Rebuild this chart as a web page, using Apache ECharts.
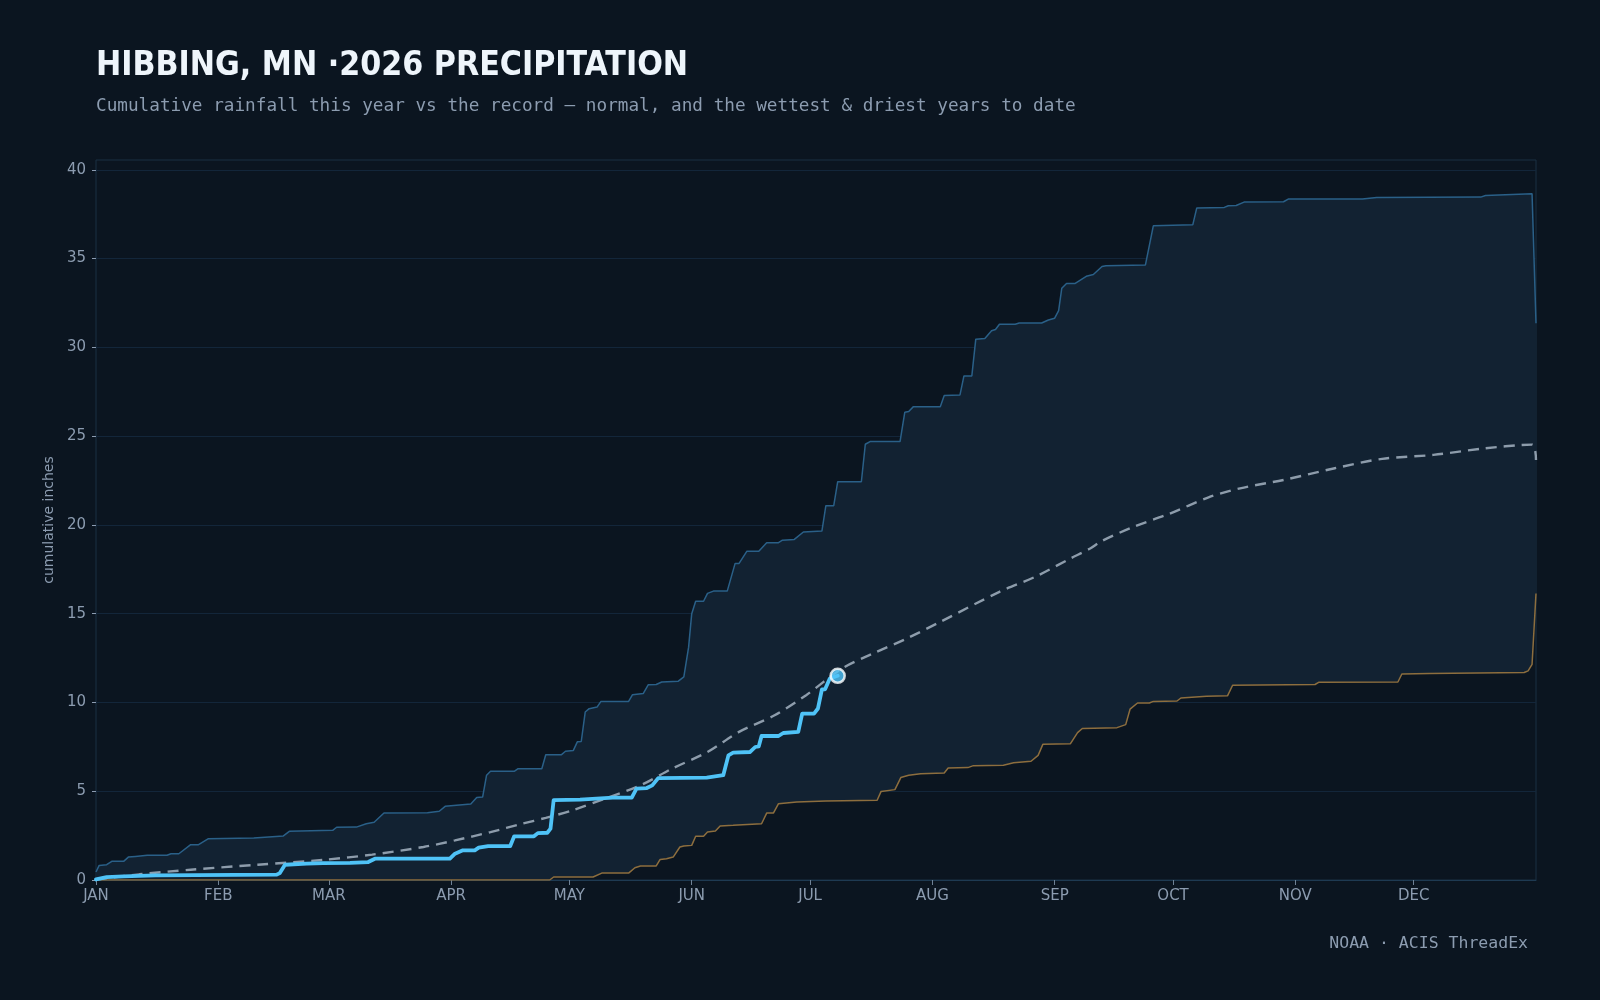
<!DOCTYPE html>
<html>
<head>
<meta charset="utf-8">
<title>Hibbing precipitation</title>
<script src="https://cdn.jsdelivr.net/npm/echarts@6/dist/echarts.min.js"></script>
<style>
  html, body { margin: 0; padding: 0; background: #0b1520; }
  #chart { width: 1600px; height: 1000px; }
</style>
</head>
<body>
<div id="chart"></div>
<script>
// day of year (0 = Jan 1), cumulative inches
const MONTHS = ['JAN', 'FEB', 'MAR', 'APR', 'MAY', 'JUN', 'JUL', 'AUG', 'SEP', 'OCT', 'NOV', 'DEC'];
const MONTH_START = [0, 31, 59, 90, 120, 151, 181, 212, 243, 273, 304, 334];
const Y_TICKS = [0, 5, 10, 15, 20, 25, 30, 35, 40];

const WETTEST = [
  [0, 0.45], [0.8, 0.82], [2.7, 0.86], [4, 1.05], [7, 1.05], [8.2, 1.29], [10, 1.33], [13, 1.39],
  [18, 1.39], [19, 1.48], [21, 1.48], [24, 1.99], [26, 1.99], [28.5, 2.33], [40, 2.36], [47.5, 2.48],
  [49, 2.74], [60, 2.8], [61, 2.97], [66, 2.98], [68.5, 3.17], [70.5, 3.25], [73, 3.77], [84, 3.79],
  [87, 3.87], [88.5, 4.15], [95, 4.28], [96.5, 4.64], [98, 4.67], [99, 5.9], [100, 6.12], [106, 6.12],
  [107, 6.27], [113, 6.27], [114, 7.05], [118, 7.06], [119, 7.25], [121, 7.3], [122, 7.78], [123, 7.8],
  [124, 9.46], [125, 9.65], [127, 9.74], [128, 10.06], [135, 10.06], [136, 10.44], [138.7, 10.5],
  [140, 11.0], [142, 11.01], [143.4, 11.15], [147.6, 11.2], [149, 11.44], [150.2, 13.1], [151, 15.0],
  [152, 15.7], [154, 15.7], [155, 16.14], [156.5, 16.27], [160, 16.27], [162, 17.83], [163, 17.83],
  [165, 18.52], [168, 18.52], [170, 19.0], [173, 19.0], [174, 19.14], [177, 19.18], [179.3, 19.6],
  [184, 19.65], [185, 21.08], [187, 21.08], [188, 22.43], [194, 22.43], [195, 24.54], [196.2, 24.69],
  [203.8, 24.69], [205, 26.34], [206, 26.38], [207.2, 26.66], [214, 26.66], [215, 27.28], [219, 27.32],
  [220, 28.39], [222, 28.39], [223, 30.46], [225.3, 30.5], [227, 30.93], [228, 31.0], [229, 31.3],
  [233, 31.3], [234, 31.37], [239.7, 31.37], [241.4, 31.54], [243, 31.64], [244, 32.07], [244.8, 33.33],
  [246, 33.6], [248.2, 33.6], [251, 34.0], [252.8, 34.1], [255, 34.55], [256, 34.6], [266, 34.64],
  [268, 36.84], [278, 36.9], [279, 37.84], [286, 37.88], [287, 37.97], [289, 37.99], [291, 38.18],
  [301, 38.2], [302.2, 38.35], [321, 38.36], [324.6, 38.44], [351, 38.46], [352.2, 38.55], [364, 38.65],
  [365, 31.36]
];

const DRIEST = [
  [0, 0], [115, 0], [116, 0.17], [126, 0.17], [128.2, 0.39], [135, 0.39], [136.6, 0.69], [138, 0.79],
  [142, 0.79], [143, 1.16], [144.6, 1.2], [146.3, 1.29], [148, 1.86], [149, 1.91], [151, 1.95],
  [152, 2.46], [154, 2.46], [155, 2.7], [157, 2.76], [158.2, 3.04], [161.5, 3.08], [168.7, 3.17],
  [170, 3.77], [171.7, 3.77], [173, 4.3], [177.6, 4.39], [185, 4.45], [198, 4.49], [199, 4.99],
  [202.5, 5.09], [204, 5.77], [206, 5.9], [209, 5.99], [215, 6.03], [216, 6.31], [221, 6.33],
  [222.4, 6.44], [230, 6.46], [232.6, 6.6], [237, 6.69], [238.8, 7.02], [240, 7.64], [247, 7.68],
  [248.8, 8.3], [250, 8.53], [258.8, 8.58], [261, 8.75], [262.1, 9.62], [264, 9.97], [267, 9.97],
  [268, 10.06], [274, 10.08], [275, 10.25], [281.5, 10.35], [286.8, 10.37], [288.1, 10.97], [309, 11.01],
  [310, 11.14], [330, 11.15], [331, 11.6], [338, 11.63], [362, 11.69], [363, 11.78], [364, 12.14],
  [365, 16.14]
];

const NORMAL = [
  [0, 0.03], [11, 0.32], [24, 0.58], [41, 0.86], [58, 1.14], [70, 1.43], [83, 1.86], [91, 2.23],
  [100, 2.7], [108, 3.17], [114, 3.5], [121, 3.94], [129, 4.58], [138, 5.33], [146, 6.27], [155, 7.21],
  [163, 8.34], [172, 9.28], [180, 10.41], [189, 11.9], [197, 12.76], [205.5, 13.6], [214, 14.54],
  [229, 16.23], [238, 17.07], [247, 18.11], [252, 18.67], [255, 19.1], [263, 19.89], [272, 20.62],
  [282, 21.55], [290, 22.06], [301, 22.53], [314, 23.19], [326, 23.72], [339, 23.94], [352, 24.31],
  [364, 24.52], [365, 23.65]
];

const THIS_YEAR = [
  [0, 0.03], [2.7, 0.16], [7, 0.2], [15, 0.26], [45.8, 0.3], [46.6, 0.39], [47.9, 0.86], [53.4, 0.92],
  [57.6, 0.95], [64.4, 0.97], [69, 1.01], [70.7, 1.2], [89.7, 1.2], [91, 1.48], [93, 1.67], [96, 1.67],
  [97, 1.82], [99.4, 1.91], [105, 1.91], [106, 2.46], [111, 2.46], [112, 2.64], [114.4, 2.66],
  [115.2, 2.89], [116, 4.5], [122.7, 4.53], [131, 4.64], [135.8, 4.64], [137, 5.15], [139.6, 5.18],
  [141, 5.33], [142.5, 5.74], [154.8, 5.77], [159, 5.9], [160.3, 7.02], [161.5, 7.17], [165.8, 7.21],
  [167.1, 7.49], [168, 7.53], [168.7, 8.11], [173, 8.11], [174.2, 8.28], [178, 8.34], [179, 9.37],
  [182, 9.37], [183, 9.66], [184, 10.74], [184.8, 10.74], [186, 11.35], [188, 11.5]
];

const BG = '#0b1520';
const LABEL = '#8c9cb0';

const chart = echarts.init(document.getElementById('chart'));

chart.setOption({
  backgroundColor: BG,
  animation: false,
  title: [
    {
      text: 'HIBBING, MN ·2026 PRECIPITATION',
      left: 96,
      top: 49,
      padding: 0,
      textStyle: {
        color: '#eef5fb',
        fontFamily: '"DejaVu Sans Condensed", "DejaVu Sans"',
        fontWeight: 'bold',
        fontSize: 33.6,
        textShadowColor: 'rgba(0,0,0,0.7)',
        textShadowOffsetX: 2,
        textShadowOffsetY: 2
      }
    },
    {
      text: 'Cumulative rainfall this year vs the record — normal, and the wettest & driest years to date',
      left: 96,
      top: 97,
      padding: 0,
      textStyle: {
        color: LABEL,
        fontFamily: '"DejaVu Sans Mono"',
        fontWeight: 'normal',
        fontSize: 17.7
      }
    },
    {
      text: 'NOAA · ACIS ThreadEx',
      right: 72,
      top: 935,
      padding: 0,
      textStyle: {
        color: LABEL,
        fontFamily: '"DejaVu Sans Mono"',
        fontWeight: 'normal',
        fontSize: 16.5
      }
    }
  ],
  grid: {
    left: 96,
    right: 64,
    top: 160,
    bottom: 120,
    show: true,
    backgroundColor: 'transparent',
    borderColor: '#1a3043',
    borderWidth: 1
  },
  xAxis: {
    type: 'value',
    min: 0,
    max: 365,
    axisLine: { show: true, lineStyle: { color: '#1e3a52', width: 1 } },
    axisTick: { show: true, length: 5, customValues: MONTH_START, lineStyle: { color: '#6f8296' } },
    axisLabel: {
      customValues: MONTH_START,
      margin: 9,
      color: LABEL,
      fontFamily: '"DejaVu Sans"',
      fontSize: 15,
      formatter: v => MONTHS[MONTH_START.indexOf(v)] || ''
    },
    splitLine: { show: false }
  },
  yAxis: {
    type: 'value',
    min: 0,
    max: 40.55,
    interval: 5,
    name: 'cumulative inches',
    nameLocation: 'middle',
    nameGap: 37,
    nameTextStyle: { color: LABEL, fontFamily: '"DejaVu Sans"', fontSize: 14 },
    axisLine: { show: false },
    axisTick: { show: true, length: 4, customValues: Y_TICKS, lineStyle: { color: '#8c9cb0' } },
    axisLabel: {
      customValues: Y_TICKS,
      margin: 10,
      color: LABEL,
      fontFamily: '"DejaVu Sans"',
      fontSize: 15
    },
    splitLine: { show: true, lineStyle: { color: '#13263a', width: 1 } }
  },
  series: [
    {
      // record band between driest and wettest
      type: 'custom',
      silent: true,
      z: 1,
      data: [[0, 0]],
      renderItem: (params, api) => {
        const pts = WETTEST.map(p => api.coord(p))
          .concat(DRIEST.slice().reverse().map(p => api.coord(p)));
        return { type: 'polygon', shape: { points: pts }, style: { fill: '#122232' } };
      }
    },
    {
      name: 'Wettest',
      type: 'line',
      z: 3,
      data: WETTEST,
      showSymbol: false,
      lineStyle: { color: '#2a6088', width: 1.5 }
    },
    {
      name: 'Driest',
      type: 'line',
      z: 3,
      data: DRIEST,
      showSymbol: false,
      lineStyle: { color: '#8d6e3e', width: 1.5 }
    },
    {
      name: 'Normal',
      type: 'line',
      z: 4,
      data: NORMAL,
      smooth: 0.3,
      showSymbol: false,
      lineStyle: { color: '#8d9cab', width: 2.4, type: [11, 7] }
    },
    {
      name: '2026',
      type: 'line',
      z: 5,
      data: THIS_YEAR,
      showSymbol: false,
      lineStyle: { color: '#4fc3f7', width: 3.8, cap: 'round', join: 'round' }
    },
    {
      type: 'scatter',
      z: 6,
      data: [THIS_YEAR[THIS_YEAR.length - 1]],
      symbolSize: 14,
      itemStyle: { color: '#4fc3f7', borderColor: '#ffffff', borderWidth: 2.5 }
    }
  ]
});
</script>
</body>
</html>
